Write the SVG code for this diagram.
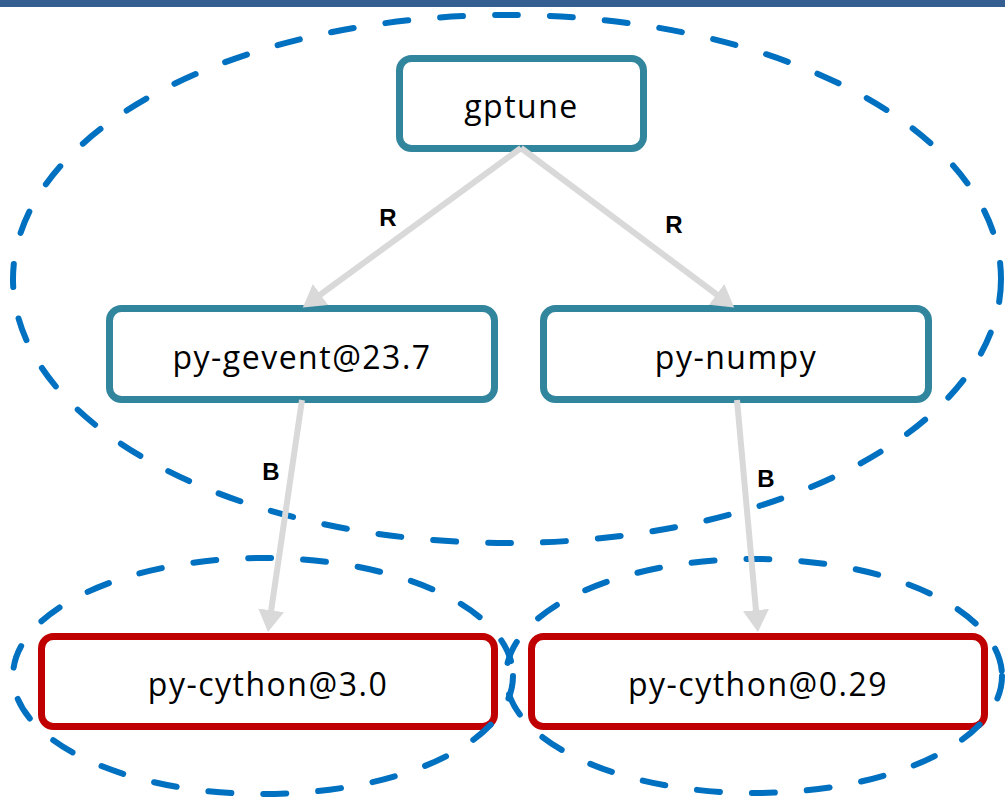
<svg xmlns="http://www.w3.org/2000/svg" width="1005" height="799" viewBox="0 0 1005 799">
  <style>
    .node rect { fill: #ffffff; stroke-width: 7; }
    .pkg rect { stroke: #31859c; }
    .dup rect { stroke: #c00000; }
    .node text { font-family: "Open Sans", "Noto Sans", sans-serif; font-size: 32px; letter-spacing: 1.5px; fill: #000000; text-anchor: middle; }
    .group { fill: none; stroke: #0070c0; stroke-width: 6; stroke-linecap: round; stroke-dasharray: 23 32; }
    .edge { fill: none; stroke: #d9d9d9; stroke-width: 6; marker-end: url(#head); }
    .lbl { font-family: "Liberation Sans", Arial, sans-serif; font-size: 24px; font-weight: bold; fill: #000000; text-anchor: middle; }
  </style>
  <defs>
    <marker id="head" markerUnits="userSpaceOnUse" markerWidth="26" markerHeight="26" refX="6" refY="13" orient="auto">
      <path d="M0,0 L22,13 L0,26 Z" fill="#d9d9d9"/>
    </marker>
  </defs>

  <!-- header band -->
  <rect x="0" y="0" width="1005" height="7" fill="#355f91"/>

  <!-- packages -->
  <g id="gptune" class="node pkg">
    <rect x="399.5" y="58.5" width="244" height="90" rx="12"/>
    <text x="521.5" y="118">gptune</text>
  </g>
  <g id="py-gevent" class="node pkg">
    <rect x="109.5" y="308.5" width="385" height="91" rx="12"/>
    <text x="302" y="368.5">py-gevent@23.7</text>
  </g>
  <g id="py-numpy" class="node pkg">
    <rect x="543.5" y="308.5" width="385" height="91" rx="12"/>
    <text x="736" y="368.5">py-numpy</text>
  </g>
  <g id="py-cython-3" class="node dup">
    <rect x="41.5" y="636.5" width="453" height="90" rx="12"/>
    <text x="268" y="696">py-cython@3.0</text>
  </g>
  <g id="py-cython-029" class="node dup">
    <rect x="531.5" y="636.5" width="453" height="90" rx="12"/>
    <text x="758" y="696">py-cython@0.29</text>
  </g>

  <!-- dashed groupings -->
  <g id="groups">
    <ellipse class="group" cx="507" cy="279" rx="494" ry="264"/>
    <ellipse class="group" cx="263" cy="676" rx="250" ry="118"/>
    <ellipse class="group" cx="754" cy="676" rx="248" ry="117"/>
  </g>

  <!-- dependency edges -->
  <g id="edges">
    <path class="edge" d="M521,148 L315.7,298"/>
    <path class="edge" d="M521,148 L721.4,298"/>
    <path class="edge" d="M302,400 L270.3,616.2"/>
    <path class="edge" d="M737,400 L756.5,616.1"/>
    <text class="lbl" x="388" y="226">R</text>
    <text class="lbl" x="674" y="233">R</text>
    <text class="lbl" x="271" y="480">B</text>
    <text class="lbl" x="766" y="487">B</text>
  </g>
</svg>
